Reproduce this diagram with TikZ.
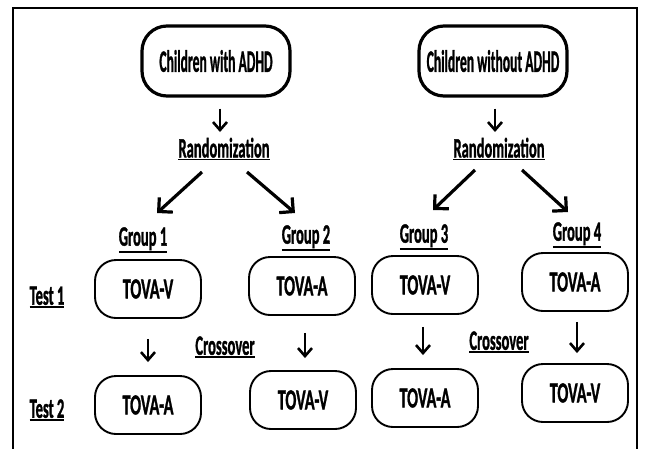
\documentclass[tikz,border=0pt]{standalone}
\usepackage{fontspec}
\setmainfont{Carlito}[BoldFeatures={FakeBold=1.5}]
\usepackage{graphicx}
\usetikzlibrary{arrows.meta}

\newcommand{\narrow}[2][0.56]{\scalebox{#1}[1]{#2}}
\newcommand{\tagtext}[1]{\narrow[0.52]{\setbox0\hbox{#1}%
    \vtop{\copy0\kern1.2pt\hrule height 1.4pt width \wd0}}}

\tikzset{
    cohort/.style={draw, line width=3.2pt, rounded corners=25pt,
        minimum width=148pt, minimum height=70pt,
        font=\bfseries\fontsize{31}{31}\selectfont},
    tova/.style={draw, line width=1.9pt, rounded corners=21pt,
        minimum width=106pt, minimum height=58pt,
        font=\bfseries\fontsize{29}{29}\selectfont},
    tag/.style={inner sep=1pt, font=\bfseries\fontsize{28}{28}\selectfont},
    down/.style={line width=2.6pt,
        -{Straight Barb[length=8pt, width=14pt]}},
    split/.style={line width=3.2pt,
        -{Straight Barb[length=10pt, width=20pt]}},
}

\begin{document}
\begin{tikzpicture}[x=1pt, y=-1pt]
    \useasboundingbox (0,0) rectangle (645,448);
    \clip (0,0) rectangle (645,448);
    \fill[white] (0,0) rectangle (645,448);
    % Frame
    \draw[line width=1.5pt] (13,470) -- (13,8) -- (637,8) -- (637,470);

    % Cohorts
    \node[cohort] (adhd) at (216,61) {\narrow[0.44]{Children with ADHD}};
    \node[cohort] (noadhd) at (493,61) {\narrow[0.44]{Children without ADHD}};
    \node[tag] (rand1) at (224,149) {\tagtext{Randomization}};
    \node[tag] (rand2) at (499,149) {\tagtext{Randomization}};
    \draw[down] ([shift={(4,11)}]adhd.south) -- ([shift={(-4,-17)}]rand1.center);
    \draw[down] ([shift={(2,11)}]noadhd.south) -- ([shift={(-4,-17)}]rand2.center);

    % Groups
    \node[tag] (grp1) at (143,240) {\tagtext{Group 1}};
    \node[tag] (grp2) at (306,238) {\tagtext{Group 2}};
    \node[tag] (grp3) at (424,237) {\tagtext{Group 3}};
    \node[tag] (grp4) at (577,235) {\tagtext{Group 4}};
    \draw[split] ([shift={(-22,23)}]rand1.center) -- ([shift={(14,-27)}]grp1.center);
    \draw[split] ([shift={(23,23)}]rand1.center) -- ([shift={(-11,-25)}]grp2.center);
    \draw[split] ([shift={(-24,21)}]rand2.center) -- ([shift={(9,-27)}]grp3.center);
    \draw[split] ([shift={(23,21)}]rand2.center) -- ([shift={(-9,-23)}]grp4.center);

    % Test 1
    \node[tag] (test1) at (47,297) {\tagtext{Test 1}};
    \node[tova] (g1a) at (148,289) {\narrow{TOVA-V}};
    \node[tova] (g2a) at (302,286) {\narrow{TOVA-A}};
    \node[tova] (g3a) at (425,285) {\narrow{TOVA-V}};
    \node[tova] (g4a) at (575,282) {\narrow{TOVA-A}};

    % Test 2
    \node[tag] (test2) at (47,410) {\tagtext{Test 2}};
    \node[tova] (g1b) at (148,405) {\narrow{TOVA-A}};
    \node[tova] (g2b) at (303,400) {\narrow{TOVA-V}};
    \node[tova] (g3b) at (425,398) {\narrow{TOVA-A}};
    \node[tova] (g4b) at (575,393) {\narrow{TOVA-V}};

    \draw[down, shorten <=20pt, shorten >=13pt] (g1a) -- (g1b);
    \draw[down, shorten <=17pt, shorten >=12pt] ([xshift=3]g2a.south) -- ([xshift=2]g2b.north);
    \draw[down, shorten <=12pt, shorten >=13pt] ([xshift=-2]g3a.south) -- ([xshift=-2]g3b.north);
    \draw[down, shorten <=10pt, shorten >=10pt] ([xshift=2]g4a.south) -- ([xshift=2]g4b.north);

    \node[tag] (cross1) at (225,347) {\tagtext{Crossover}};
    \node[tag] (cross2) at (499,342) {\tagtext{Crossover}};
\end{tikzpicture}
\end{document}
